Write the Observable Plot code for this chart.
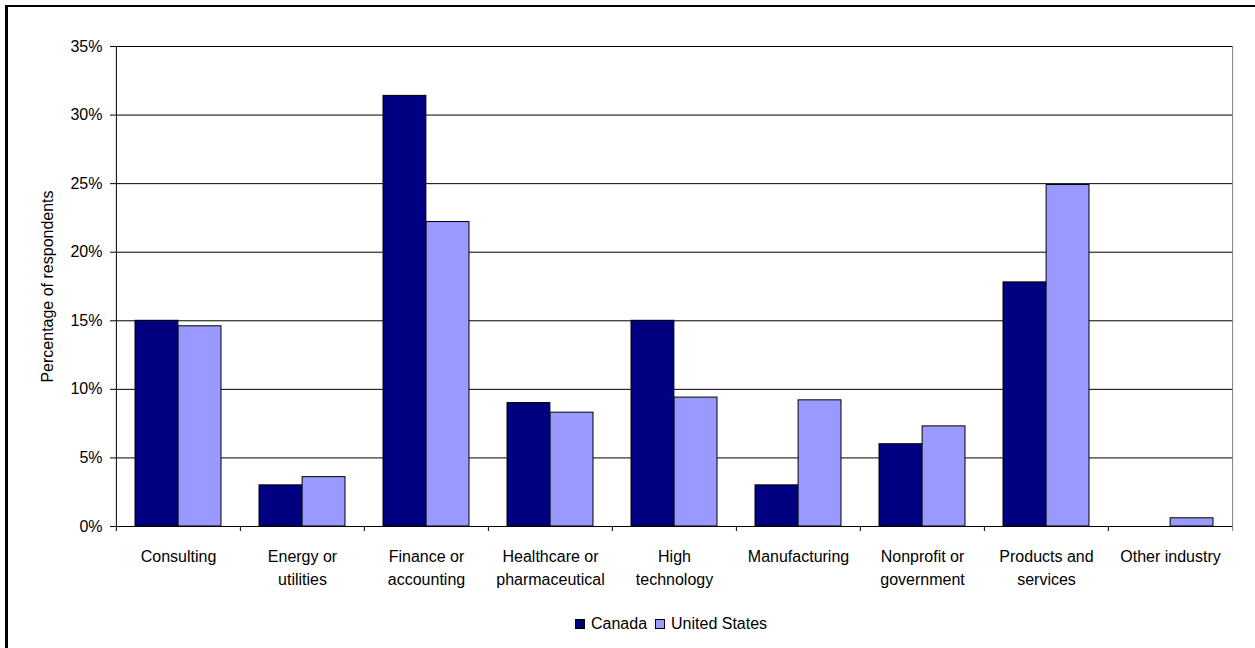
<!DOCTYPE html>
<html>
<head>
<meta charset="utf-8">
<script src="https://cdn.jsdelivr.net/npm/d3@7"></script>
<script src="https://cdn.jsdelivr.net/npm/@observablehq/plot@0.6"></script>
<style>
  html, body { margin: 0; padding: 0; background: #fff; overflow: hidden; }
  #page { position: relative; width: 1255px; height: 648px; font-family: "Liberation Sans", Arial, sans-serif; }
  #frame { position: absolute; left: 5px; top: 5px; width: 1300px; height: 700px;
           border-left: 3px solid #000; border-top: 2px solid #000; }
  #chart { position: absolute; left: 0; top: 0; }
  #legend { position: absolute; left: 575px; top: 614px; display: flex; align-items: center;
            font-size: 16px; line-height: 20px; color: #000; }
  #legend .item { display: flex; align-items: center; margin-right: 8px; }
  #legend .swatch { width: 8px; height: 8px; border: 1px solid #000; margin-right: 6px; }
</style>
</head>
<body>
<div id="page">
  <div id="frame"></div>
  <div id="chart"></div>
  <div id="legend"></div>
</div>
<script>
// Industry of respondents, by country (percent)
const categories = [
  "Consulting", "Energy or utilities", "Finance or accounting",
  "Healthcare or pharmaceutical", "High technology", "Manufacturing",
  "Nonprofit or government", "Products and services", "Other industry"
];
const categoryLabels = [
  "Consulting", "Energy or\nutilities", "Finance or\naccounting",
  "Healthcare or\npharmaceutical", "High\ntechnology", "Manufacturing",
  "Nonprofit or\ngovernment", "Products and\nservices", "Other industry"
];
const series = ["Canada", "United States"];
const seriesColors = ["#000080", "#9999FF"];
const canada = [15.0, 3.0, 31.4, 9.0, 15.0, 3.0, 6.0, 17.8, 0];
const unitedStates = [14.6, 3.6, 22.2, 8.3, 9.4, 9.2, 7.3, 24.9, 0.6];
const yTicks = [0, 5, 10, 15, 20, 25, 30, 35];
const yTitle = "Percentage of respondents";

const rows = categories.flatMap((category, i) => [
  {category, series: series[0], value: canada[i]},
  {category, series: series[1], value: unitedStates[i]}
]);

const W = 1255, H = 600, mL = 115, mR = 22, mT = 46, mB = 74;
const bw = (W - mL - mR) / categories.length;   // width of one category band
const barW = bw * 0.347;                          // width of one bar
const pad = (bw - 2 * barW) / 2;                  // gap at each side of a bar pair

const chart = Plot.plot({
  width: W,
  height: H,
  marginLeft: mL,
  marginRight: mR,
  marginTop: mT,
  marginBottom: mB,
  style: {fontFamily: "'Liberation Sans', Arial, sans-serif", fontSize: "16px", color: "#000", background: "transparent", overflow: "visible"},
  x: {type: "band", domain: categories, padding: 0, axis: null},
  y: {domain: [0, 35], axis: null},
  color: {domain: series, range: seriesColors},
  marks: [
    // horizontal gridlines
    Plot.ruleY(yTicks.filter(d => d > 0), {stroke: "#000", strokeWidth: 1}),
    // bars
    Plot.barY(rows.filter(d => d.series === series[0]), {
      x: "category", y: "value", fill: "series", stroke: "#000", strokeWidth: 1,
      insetLeft: pad, insetRight: pad + barW
    }),
    Plot.barY(rows.filter(d => d.series === series[1]), {
      x: "category", y: "value", fill: "series", stroke: "#000", strokeWidth: 1,
      insetLeft: pad + barW, insetRight: pad
    }),
    // baseline, left axis line and right border of the plot area
    Plot.ruleY([0], {stroke: "#000"}),
    Plot.ruleX([categories[0]], {x: d => d, y1: 0, y2: 35, dx: -bw / 2, stroke: "#000"}),
    Plot.ruleX([categories[categories.length - 1]], {x: d => d, y1: 0, y2: 35, dx: bw / 2, stroke: "#808080"}),
    // tick marks between categories
    Plot.axisX({tickSize: 5, tickFormat: () => "", dx: -bw / 2, label: null}),
    Plot.axisX({ticks: [categories[categories.length - 1]], tickSize: 5, tickFormat: () => "", dx: bw / 2, label: null, stroke: "#808080"}),
    // category labels
    Plot.axisX({
      tickSize: 0, tickPadding: 19, label: null, fontSize: 16, lineHeight: 1.44,
      tickFormat: d => categoryLabels[categories.indexOf(d)]
    }),
    // y axis
    Plot.axisY({ticks: yTicks, tickSize: 5, tickPadding: 8, fontSize: 16, label: null, tickFormat: d => d + "%"}),
    Plot.text([yTitle], {
      text: d => d, frameAnchor: "left", textAnchor: "middle", lineAnchor: "middle",
      rotate: -90, dx: -68, fontSize: 16, fill: "#000"
    })
  ]
});
document.getElementById("chart").appendChild(chart);

// legend
const legend = document.getElementById("legend");
series.forEach((name, i) => {
  const item = document.createElement("div");
  item.className = "item";
  const sw = document.createElement("span");
  sw.className = "swatch";
  sw.style.background = seriesColors[i];
  const label = document.createElement("span");
  label.textContent = name;
  item.appendChild(sw);
  item.appendChild(label);
  legend.appendChild(item);
});
</script>
</body>
</html>
